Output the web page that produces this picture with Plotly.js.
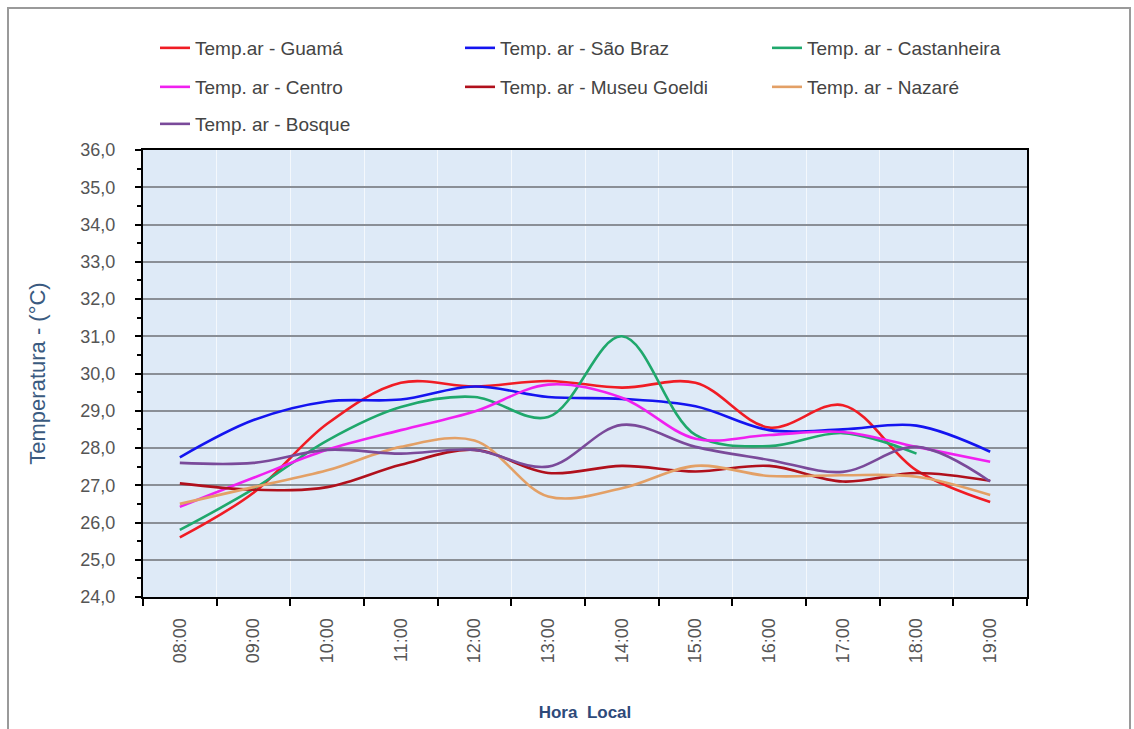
<!DOCTYPE html>
<html>
<head>
<meta charset="utf-8">
<script src="https://cdn.plot.ly/plotly-3.0.1.min.js"></script>
<style>
  html, body { margin: 0; padding: 0; background: #ffffff; }
  #chart { width: 1134px; height: 729px; }
  #frame { position: absolute; left: 7px; top: 7px; width: 1120px; height: 740px;
           border: 2px solid #9a9a9a; pointer-events: none; }
</style>
</head>
<body>
<div id="chart"></div>
<div id="frame"></div>
<script>
const hours = ["08:00","09:00","10:00","11:00","12:00","13:00","14:00","15:00","16:00","17:00","18:00","19:00"];

const guama       = [25.6, 26.8, 28.65, 29.75, 29.65, 29.8, 29.62, 29.75, 28.55, 29.15, 27.4, 26.55];
const saoBraz     = [27.75, 28.75, 29.25, 29.3, 29.65, 29.37, 29.32, 29.12, 28.48, 28.5, 28.6, 27.9];
const castanheira = [25.8, 26.9, 28.2, 29.1, 29.37, 28.83, 31.0, 28.35, 28.05, 28.4, 27.85, null];
const centro      = [26.42, 27.2, 27.95, 28.48, 28.98, 29.7, 29.35, 28.25, 28.35, 28.43, 28.03, 27.63];
const museuGoeldi = [27.05, 26.88, 26.95, 27.55, 27.95, 27.33, 27.52, 27.37, 27.52, 27.1, 27.33, 27.12];
const nazare      = [26.5, 26.95, 27.4, 28.03, 28.2, 26.7, 26.92, 27.52, 27.25, 27.27, 27.23, 26.74];
const bosque      = [27.6, 27.6, 27.95, 27.85, 27.95, 27.5, 28.62, 28.03, 27.68, 27.36, 28.03, 27.1];

const seriesNames = [
  "Temp.ar - Guamá", "Temp. ar - São Braz", "Temp. ar - Castanheira",
  "Temp. ar - Centro", "Temp. ar - Museu Goeldi", "Temp. ar - Nazaré",
  "Temp. ar - Bosque"
];
const seriesData = [guama, saoBraz, castanheira, centro, museuGoeldi, nazare, bosque];
const seriesColors = ["#f01c24", "#1414f0", "#1fa86c", "#f020f0", "#b0101c", "#e3a066", "#7a4a9a"];
const legendIds = ["legend", "legend2", "legend3", "legend4", "legend5", "legend6", "legend7"];

const traces = seriesData.map((vals, i) => ({
  type: "scatter",
  mode: "lines",
  x: hours,
  y: vals,
  name: seriesNames[i],
  legend: legendIds[i],
  line: { color: seriesColors[i], width: 2.6, shape: "spline", smoothing: 1.0 },
  connectgaps: false,
  hoverinfo: "x+y+name"
}));

// legend grid: 3 columns x 3 rows (row-major), positioned in container pixels
const colX = [155, 460, 767];
const rowY = [48, 87, 124];
const W = 1134, H = 729;

function legendAt(i) {
  const c = i % 3, r = Math.floor(i / 3);
  return {
    orientation: "h",
    xref: "container", yref: "container",
    x: colX[c] / W, xanchor: "left",
    y: 1 - rowY[r] / H, yanchor: "middle",
    font: { family: "Arial, Liberation Sans, sans-serif", size: 19, color: "#444444" },
    bgcolor: "rgba(0,0,0,0)",
    itemwidth: 30
  };
}

const layout = {
  width: W, height: H,
  margin: { l: 143, r: 107, t: 150, b: 132 },
  paper_bgcolor: "#ffffff",
  plot_bgcolor: "#deeaf7",
  separators: ",.",
  font: { family: "Arial, Liberation Sans, sans-serif", color: "#555555" },
  showlegend: true,
  xaxis: {
    type: "category",
    range: [-0.5, 11.5],
    tickson: "boundaries",
    ticks: "outside", ticklen: 7, tickwidth: 2, tickcolor: "#000000",
    tickangle: -90,
    ticklabelstandoff: 12,
    tickfont: { size: 18, color: "#555555" },
    showgrid: true, gridcolor: "#f4f8fc", gridwidth: 1,
    showline: true, linecolor: "#000000", linewidth: 2, mirror: true,
    title: { text: "<b>Hora  Local</b>", font: { size: 17, color: "#2e4a7a" }, standoff: 44 },
    zeroline: false
  },
  yaxis: {
    range: [24, 36],
    dtick: 1,
    tickformat: ".1f",
    ticks: "outside", ticklen: 6, tickwidth: 2, tickcolor: "#000000",
    ticklabelstandoff: 16,
    tickfont: { size: 18, color: "#555555" },
    minor: { dtick: 0.5, ticks: "outside", ticklen: 4, tickcolor: "#000000", showgrid: false },
    showgrid: true, gridcolor: "#8a8f96", gridwidth: 1.5,
    showline: true, linecolor: "#000000", linewidth: 2, mirror: true,
    title: { text: "Temperatura - (°C)", font: { size: 22, color: "#3a5a80" }, standoff: 29 },
    zeroline: false
  }
};
legendIds.forEach((id, i) => { layout[id] = legendAt(i); });

Plotly.newPlot("chart", traces, layout, { displayModeBar: false, responsive: false });
</script>
</body>
</html>
